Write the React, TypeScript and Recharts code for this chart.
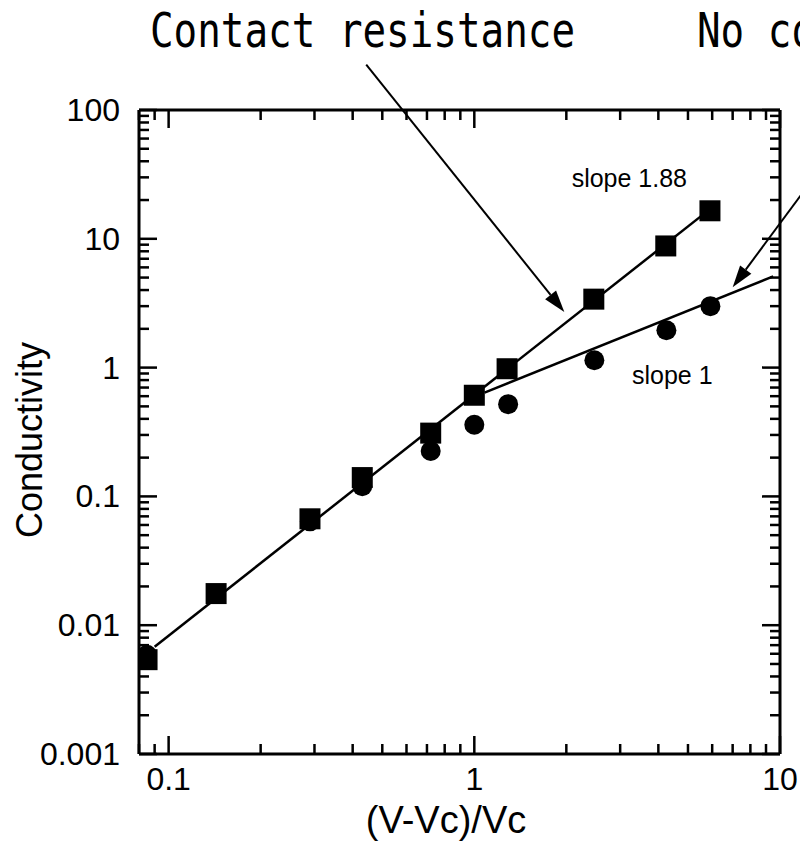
import React from "react"
import { ScatterChart, Scatter, XAxis, YAxis, ReferenceLine } from "recharts"

// measured points, square = contact resistance, circle = no contact resistance
const xSquares = [0.085, 0.143, 0.29, 0.43, 0.72, 1.0, 1.28, 2.46, 4.23, 5.9]
const ySquares = [0.0054, 0.0176, 0.067, 0.14, 0.31, 0.61, 0.98, 3.4, 8.8, 16.5]
const xCircles = [0.085, 0.29, 0.43, 0.72, 1.0, 1.29, 2.47, 4.25, 5.92]
const yCircles = [0.0059, 0.064, 0.12, 0.225, 0.36, 0.52, 1.14, 1.95, 3.0]

// fitted lines (end points)
const xFitSteep = [0.09, 5.9]
const yFitSteep = [0.0068, 17]
const xFitFlat = [1.08, 9.5]
const yFitFlat = [0.64, 5.1]

const xMajorTicks = [0.1, 1, 10]
const xMinorTicks = [0.08, 0.09, 0.2, 0.3, 0.4, 0.5, 0.6, 0.7, 0.8, 0.9, 2, 3, 4, 5, 6, 7, 8, 9]
const yMajorTicks = [0.001, 0.01, 0.1, 1, 10, 100]
const yMinorTicks = [
  0.002, 0.003, 0.004, 0.005, 0.006, 0.007, 0.008, 0.009,
  0.02, 0.03, 0.04, 0.05, 0.06, 0.07, 0.08, 0.09,
  0.2, 0.3, 0.4, 0.5, 0.6, 0.7, 0.8, 0.9,
  2, 3, 4, 5, 6, 7, 8, 9,
  20, 30, 40, 50, 60, 70, 80, 90,
]

const W = 800
const H = 842
const PLOT_LEFT = 139
const PLOT_RIGHT = 780
const PLOT_TOP = 110
const PLOT_BOTTOM = 754
const MAJOR = 18
const MINOR = 10
const FONT = "'Liberation Sans', Arial, sans-serif"

const toPoints = (xs: number[], ys: number[]) => xs.map((x, i) => ({ x, y: ys[i] }))

const squares = toPoints(xSquares, ySquares)
const circles = toPoints(xCircles, yCircles)
const fitSteep = toPoints(xFitSteep, yFitSteep)
const fitFlat = toPoints(xFitFlat, yFitFlat)

const xTicks = [...xMinorTicks, ...xMajorTicks].sort((a, b) => a - b)
const yTicks = [...yMinorTicks, ...yMajorTicks].sort((a, b) => a - b)

const BottomTick = ({ x, payload }: any) => {
  const major = xMajorTicks.includes(payload.value)
  return (
    <g>
      <line x1={x} x2={x} y1={PLOT_BOTTOM} y2={PLOT_BOTTOM - (major ? MAJOR : MINOR)} stroke="#000" strokeWidth={2.5} />
      {major && (
        <text x={x} y={PLOT_BOTTOM + 36} textAnchor="middle" fontSize={32} fontFamily={FONT} fill="#000">
          {String(payload.value)}
        </text>
      )}
    </g>
  )
}

const TopTick = ({ x, payload }: any) => {
  const major = xMajorTicks.includes(payload.value)
  return <line x1={x} x2={x} y1={PLOT_TOP} y2={PLOT_TOP + (major ? MAJOR : MINOR)} stroke="#000" strokeWidth={2.5} />
}

const LeftTick = ({ y, payload }: any) => {
  const major = yMajorTicks.includes(payload.value)
  return (
    <g>
      <line x1={PLOT_LEFT} x2={PLOT_LEFT + (major ? MAJOR : MINOR)} y1={y} y2={y} stroke="#000" strokeWidth={2.5} />
      {major && (
        <text x={PLOT_LEFT - 19} y={y + 11} textAnchor="end" fontSize={32} fontFamily={FONT} fill="#000">
          {String(payload.value)}
        </text>
      )}
    </g>
  )
}

const RightTick = ({ y, payload }: any) => {
  const major = yMajorTicks.includes(payload.value)
  return <line x1={PLOT_RIGHT} x2={PLOT_RIGHT - (major ? MAJOR : MINOR)} y1={y} y2={y} stroke="#000" strokeWidth={2.5} />
}

const Square = ({ cx, cy }: any) => <rect x={cx - 10.5} y={cy - 10.5} width={21} height={21} fill="#000" />
const Dot = ({ cx, cy }: any) => <circle cx={cx} cy={cy} r={10} fill="#000" />
const NoMark = () => <g />

const Arrow = ({ x1, y1, x2, y2 }: any) => {
  const ang = Math.atan2(y2 - y1, x2 - x1)
  const len = 22
  const half = 7
  const bx = x2 - len * Math.cos(ang)
  const by = y2 - len * Math.sin(ang)
  const px = -Math.sin(ang) * half
  const py = Math.cos(ang) * half
  return (
    <g>
      <line x1={x1} y1={y1} x2={bx} y2={by} stroke="#000" strokeWidth={2} />
      <polygon points={`${x2},${y2} ${bx + px},${by + py} ${bx - px},${by - py}`} fill="#000" />
    </g>
  )
}

export default function App() {
  return (
    <div style={{ position: "absolute", left: 0, top: 0, width: W, height: H, background: "#fff", overflow: "hidden" }}>
      <ScatterChart width={W} height={H} margin={{ top: 0, right: 0, bottom: 0, left: 0 }}>
        <XAxis
          xAxisId="b"
          dataKey="x"
          type="number"
          scale="log"
          domain={[0.08, 10]}
          allowDataOverflow
          ticks={xTicks}
          interval={0}
          height={H - PLOT_BOTTOM}
          axisLine={{ stroke: "#000", strokeWidth: 3 }}
          tickLine={false}
          tick={<BottomTick />}
        />
        <XAxis
          xAxisId="t"
          orientation="top"
          dataKey="x"
          type="number"
          scale="log"
          domain={[0.08, 10]}
          allowDataOverflow
          ticks={xTicks}
          interval={0}
          height={PLOT_TOP}
          axisLine={{ stroke: "#000", strokeWidth: 3 }}
          tickLine={false}
          tick={<TopTick />}
        />
        <YAxis
          yAxisId="l"
          dataKey="y"
          type="number"
          scale="log"
          domain={[0.001, 100]}
          allowDataOverflow
          ticks={yTicks}
          interval={0}
          width={PLOT_LEFT}
          axisLine={{ stroke: "#000", strokeWidth: 3 }}
          tickLine={false}
          tick={<LeftTick />}
        />
        <YAxis
          yAxisId="r"
          orientation="right"
          dataKey="y"
          type="number"
          scale="log"
          domain={[0.001, 100]}
          allowDataOverflow
          ticks={yTicks}
          interval={0}
          width={W - PLOT_RIGHT}
          axisLine={{ stroke: "#000", strokeWidth: 3 }}
          tickLine={false}
          tick={<RightTick />}
        />
        <Scatter xAxisId="b" yAxisId="l" data={fitSteep} line={{ stroke: "#000", strokeWidth: 2.5 }} shape={<NoMark />} isAnimationActive={false} />
        <Scatter xAxisId="b" yAxisId="l" data={fitFlat} line={{ stroke: "#000", strokeWidth: 2.5 }} shape={<NoMark />} isAnimationActive={false} />
        <Scatter xAxisId="b" yAxisId="l" data={circles} shape={<Dot />} isAnimationActive={false} />
        <Scatter xAxisId="b" yAxisId="l" data={squares} shape={<Square />} isAnimationActive={false} />
        <ReferenceLine
          xAxisId="b"
          yAxisId="l"
          segment={[{ x: 0.443, y: 225 }, { x: 1.97, y: 2.7 }]}
          ifOverflow="visible"
          shape={<Arrow />}
        />
        <ReferenceLine
          xAxisId="b"
          yAxisId="l"
          segment={[{ x: 21.3, y: 149 }, { x: 7.0, y: 4.2 }]}
          ifOverflow="visible"
          shape={<Arrow />}
        />
      </ScatterChart>
      <svg width={W} height={H} style={{ position: "absolute", left: 0, top: 0, pointerEvents: "none" }}>
        <text x={150} y={47} fontSize={48} fontFamily="'DejaVu Sans Mono', monospace" textLength={425} lengthAdjust="spacingAndGlyphs" fill="#000">
          Contact resistance
        </text>
        <text x={697} y={47} fontSize={48} fontFamily="'DejaVu Sans Mono', monospace" textLength={496} lengthAdjust="spacingAndGlyphs" fill="#000">
          No contact resistance
        </text>
        <text x={687} y={187} textAnchor="end" fontSize={25} fontFamily={FONT} fill="#000">
          slope 1.88
        </text>
        <text x={632} y={384} fontSize={25} fontFamily={FONT} fill="#000">
          slope 1
        </text>
        <text
          x={42}
          y={440}
          textAnchor="middle"
          fontSize={36}
          fontFamily={FONT}
          fill="#000"
          transform="rotate(-90 42 440)"
        >
          Conductivity
        </text>
        <text x={446} y={833} textAnchor="middle" fontSize={38} fontFamily={FONT} fill="#000">
          (V-Vc)/Vc
        </text>
      </svg>
    </div>
  )
}
